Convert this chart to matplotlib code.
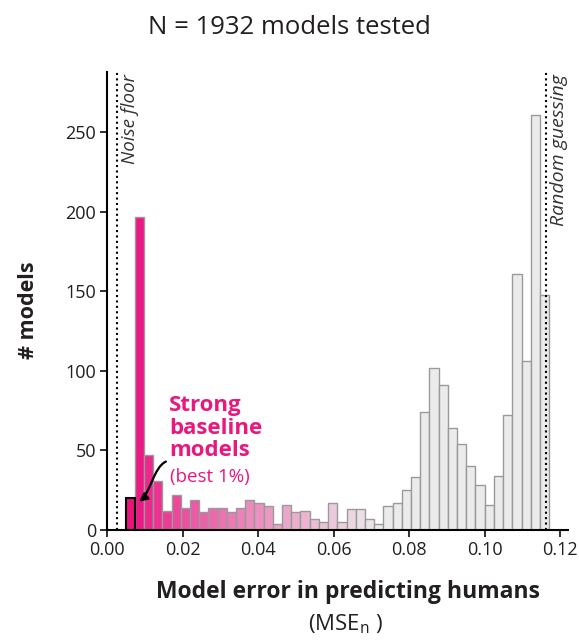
import numpy as np
import matplotlib
matplotlib.use("Agg")
import matplotlib.pyplot as plt
from matplotlib.colors import to_rgb
from matplotlib.patches import FancyArrowPatch
from matplotlib.path import Path

plt.rcParams['font.family'] = ['Open Sans', 'DejaVu Sans']
plt.rcParams['mathtext.fontset'] = 'custom'
plt.rcParams['mathtext.rm'] = 'Open Sans'

# histogram data (MSE_n bins)
bin_start = 0.0049
bin_end = 0.1171
counts = [20, 197, 47, 31, 12, 22, 14, 19, 11, 14, 14, 11, 14, 19, 17, 15,
          4, 16, 11, 12, 7, 5, 17, 5, 13, 13, 7, 4, 15, 17, 25, 33, 74, 102,
          91, 64, 54, 40, 28, 16, 34, 72, 161, 106, 261, 148]
noise_floor = 0.0026
random_guess = 0.1162
n_models = 1932

pink = "#e8187f"
grey = "#ebebeb"

edges = np.linspace(bin_start, bin_end, len(counts) + 1)
width = edges[1] - edges[0]

# colour ramp from pink to grey over the first ~28 bins
c0 = np.array(to_rgb("#ec1884"))
c1 = np.array(to_rgb(grey))
colors = []
for i in range(len(counts)):
    t = min(max(i - 1, 0) / 26, 1) ** 0.8
    colors.append(c0 * (1 - t) + c1 * t)

fig = plt.figure(figsize=(5.79, 6.42), dpi=100)
ax = fig.add_axes([0.1848, 0.1745, 0.7963, 0.7134])

ax.bar(edges[:-1], counts, width=width, align='edge', color=colors,
       edgecolor="#9a9a9a", linewidth=1.0, zorder=2)
# best 1% bar outlined in black
ax.bar(edges[0], counts[0], width=width, align='edge', color="#e8137d",
       edgecolor="black", linewidth=1.5, zorder=3)

ax.axvline(noise_floor, color="black", linestyle=(0, (1, 1.6)), linewidth=1.5, zorder=1)
ax.axvline(random_guess, color="black", linestyle=(0, (1, 1.6)), linewidth=1.5, zorder=4)

ax.text(0.0062, 0.995, "Noise floor", transform=ax.get_xaxis_transform(),
        rotation=90, ha='center', va='top', style='italic', fontsize=13.5,
        color="#333333")
ax.text(0.1197, 0.995, "Random guessing", transform=ax.get_xaxis_transform(),
        rotation=90, ha='center', va='top', style='italic', fontsize=14,
        color="#333333")

ax.text(0.0165, 64, "Strong\nbaseline\nmodels", color=pink, fontsize=16,
        fontweight='bold', ha='left', va='center', linespacing=1.08)
ax.text(0.0166, 33, "(best 1%)", color=pink, fontsize=13.5, ha='left', va='center')

# curved pointer to the best-1% bar
arrow_path = Path([(0.01505, 40.9), (0.01188, 37.8), (0.01081, 22.0), (0.0079, 17.0)],
                  [Path.MOVETO, Path.CURVE4, Path.CURVE4, Path.CURVE4])
arrow_path = ax.transData.transform_path(arrow_path)
arr = FancyArrowPatch(path=Path(arrow_path.vertices, arrow_path.codes),
                      arrowstyle='-|>', color="black", lw=1.6,
                      mutation_scale=12, transform=None, zorder=5)
fig.patches.append(arr)

ax.set_xlim(0, 0.1221)
ax.set_ylim(0, 288)
ax.set_xticks([0.00, 0.02, 0.04, 0.06, 0.08, 0.10, 0.12])
ax.set_xticklabels(["0.00", "0.02", "0.04", "0.06", "0.08", "0.10", "0.12"])
ax.set_yticks([0, 50, 100, 150, 200, 250])
ax.tick_params(direction='out', length=5, width=1.3, labelsize=13,
               colors="#231f20", pad=3)
for s in ['top', 'right']:
    ax.spines[s].set_visible(False)
for s in ['left', 'bottom']:
    ax.spines[s].set_linewidth(1.5)

fig.text(0.5, 1 - 28 / 642, f"N = {n_models} models tested", ha='center',
         va='center', fontsize=18.5, color="#231f20")
fig.text(28 / 579, 1 - 310 / 642, "# models", rotation=90, ha='center',
         va='center', fontsize=15.5, fontweight='bold', color="#231f20")
fig.text(348 / 579, 1 - 592 / 642, "Model error in predicting humans",
         ha='center', va='center', fontsize=16.5, fontweight='bold', color="#231f20")
fig.text(346 / 579, 1 - 624 / 642, r"(MSE$_{\mathrm{n}}$ )", ha='center',
         va='center', fontsize=16, color="#231f20")

fig.savefig("out.png", dpi=100)
